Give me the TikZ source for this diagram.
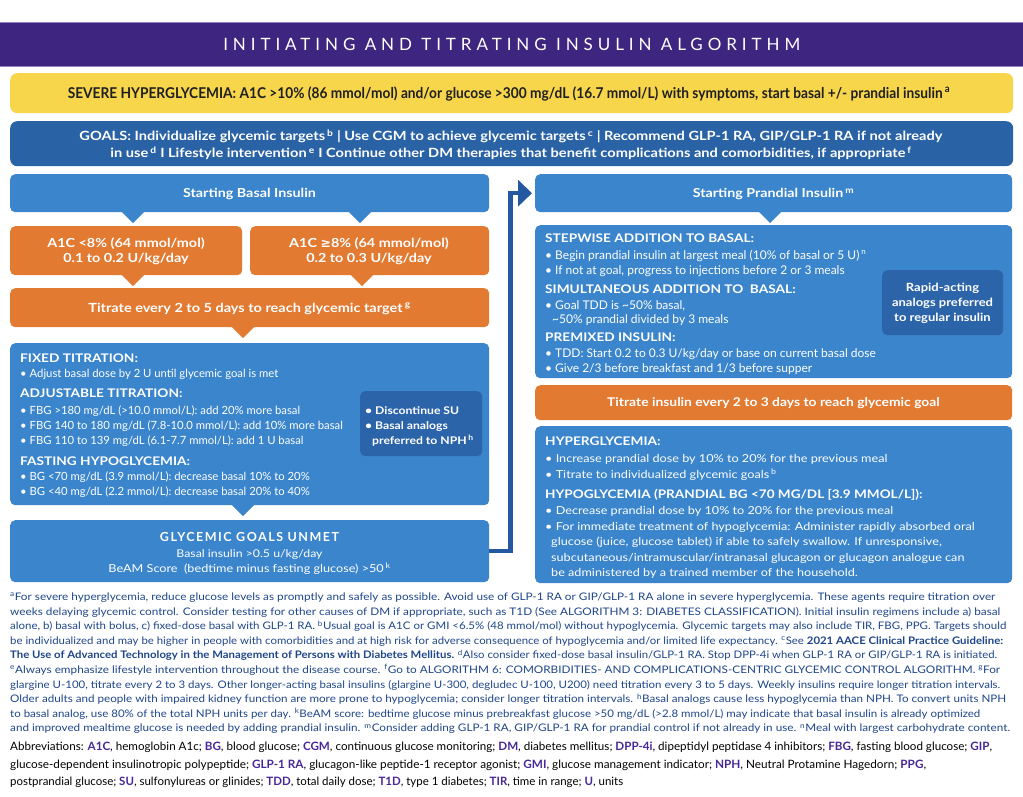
\documentclass[tikz,border=0pt]{standalone}
\usepackage{fontspec}
\usepackage{graphicx}
\setmainfont{Lato}
\newfontfamily\titlefont[LetterSpace=29]{Lato}
\newfontfamily\yelfont[FakeStretch=0.92]{Lato}
\newfontfamily\bx[FakeStretch=1.15]{Lato}
\newfontfamily\condfont[FakeStretch=0.86]{Lato}
\newfontfamily\symfont{DejaVu Sans}
\usetikzlibrary{arrows.meta}
\definecolor{purp}{RGB}{62,37,128}
\definecolor{lav}{RGB}{150,130,200}
\definecolor{yel}{RGB}{247,214,76}
\definecolor{dblue}{RGB}{42,98,166}
\definecolor{mblue}{RGB}{58,133,204}
\definecolor{iblue}{RGB}{44,100,170}
\definecolor{orng}{RGB}{226,122,50}
\definecolor{cblue}{RGB}{36,88,160}
\definecolor{fnblue}{RGB}{30,70,138}
\definecolor{abpurp}{RGB}{72,40,150}
\newcommand\fsz[1]{\fontsize{#1}{#1}\selectfont}
\newcommand\sps[1]{\textsuperscript{#1}}
\newcommand\ab[1]{\textbf{\color{abpurp}#1}}
\newcommand\gesym{{\symfont\bfseries ≥}}
\newcommand\fw[2]{\resizebox{#1pt}{\height}{#2}}
\tikzset{
  panel/.style={rounded corners=5pt, inner sep=0pt, anchor=north west},
  wl/.style={anchor=base west, inner sep=0pt, text=white, font=\fsz{11.3}},
  wr/.style={anchor=base west, inner sep=0pt, text=white, font=\fsz{12}},
  ws/.style={anchor=base west, inner sep=0pt, text=white, font=\bx\fsz{11}},
  wh/.style={anchor=base west, inner sep=0pt, text=white, font=\bx\bfseries\fsz{11.9}},
  wc/.style={anchor=base, inner sep=0pt, text=white},
  fn/.style={anchor=base west, inner sep=0pt, text=fnblue, font=\fsz{10.4}},
  abl/.style={anchor=base west, inner sep=0pt, text=black, font=\condfont\fsz{11.5}},
  conn/.style={draw=cblue, line width=4.5pt, line join=miter, -{Triangle[length=14pt,width=26pt]}, shorten >=3pt}
}
\begin{document}
\begin{tikzpicture}[x=1pt,y=-1pt]
\useasboundingbox (0,0) rectangle (1023,796);
\fill[white] (0,0) rectangle (1023,796);

% banner
\node[panel, rounded corners=0pt, fill=purp, minimum width=1023pt, minimum height=44pt] (banner) at (0,22) {};
\draw[lav, line width=1pt] (banner.north west) -- (banner.north east);
\draw[lav, line width=1pt] (banner.south west) -- (banner.south east);
\node[text=white, font=\titlefont\fsz{17}] (title) at (banner.center) {INITIATING AND TITRATING INSULIN ALGORITHM};

% yellow
\node[panel, rounded corners=7pt, fill=yel, minimum width=1003pt, minimum height=40pt] (sev) at (10,73) {};
\node[anchor=base, inner sep=0pt, text=black!88, font=\yelfont\bfseries\fsz{14.9}] (sevt) at (509,98) {SEVERE HYPERGLYCEMIA: A1C >10\% (86 mmol/mol) and/or glucose >300 mg/dL (16.7 mmol/L) with symptoms, start basal +/- prandial insulin\,\sps{a}};

% goals
\node[panel, rounded corners=7pt, fill=dblue, minimum width=1003pt, minimum height=45pt] (goals) at (10,121) {};
\node[wc, font=\bx\bfseries\fsz{12.7}] (g1) at (511,140.5) {GOALS: Individualize glycemic targets\,\sps{b} | Use CGM to achieve glycemic targets\,\sps{c} | Recommend GLP-1 RA, GIP/GLP-1 RA if not already};
\node[wc, font=\bx\bfseries\fsz{12.7}] (g2) at (511,157.5) {in use\,\sps{d} I Lifestyle intervention\,\sps{e} I Continue other DM therapies that benefit complications and comorbidities, if appropriate\,\sps{f}};

% ---------- left column
\node[panel, fill=mblue, minimum width=479pt, minimum height=38pt] (sb) at (10,174) {};
\node[wc, font=\bx\bfseries\fsz{12.45}] (sbt) at (249.5,197.5) {Starting Basal Insulin};
\fill[mblue] (121,211) -- (145,211) -- (133,223) -- cycle;
\fill[mblue] (348,211) -- (372,211) -- (360,223) -- cycle;

\node[panel, fill=orng, minimum width=232pt, minimum height=49pt] (o1) at (10,226) {};
\node[panel, fill=orng, minimum width=239pt, minimum height=49pt] (o2) at (250,226) {};
\node[wc, font=\bx\bfseries\fsz{12.5}] (o1a) at (126,247.5) {A1C <8\% (64 mmol/mol)};
\node[wc, font=\bx\bfseries\fsz{12.5}] (o1b) at (126,262.5) {0.1 to 0.2 U/kg/day};
\node[wc, font=\bx\bfseries\fsz{12.5}] (o2a) at (369,247.5) {A1C \gesym8\% (64 mmol/mol)};
\node[wc, font=\bx\bfseries\fsz{12.5}] (o2b) at (369,262.5) {0.2 to 0.3 U/kg/day};
\fill[orng] (121,274) -- (145,274) -- (133,286) -- cycle;
\fill[orng] (350,274) -- (374,274) -- (362,286) -- cycle;

\node[panel, fill=orng, minimum width=479pt, minimum height=39pt] (tb) at (10,288) {};
\node[wc, font=\bx\bfseries\fsz{12.6}] (tbt) at (249.5,312) {Titrate every 2 to 5 days to reach glycemic target\,\sps{g}};
\fill[orng] (231,326) -- (255,326) -- (243,338) -- cycle;

\node[panel, fill=mblue, minimum width=479pt, minimum height=162pt] (bb) at (10,343) {};
\node[wh] (h1) at (20,362) {FIXED TITRATION:};
\node[wl] (l1) at (20,377) {• Adjust basal dose by 2 U until glycemic goal is met};
\node[wh] (h2) at (20,397) {ADJUSTABLE TITRATION:};
\node[wl] (l2) at (20,414) {• FBG >180 mg/dL (>10.0 mmol/L): add 20\% more basal};
\node[wl] (l3) at (20,429) {• FBG 140 to 180 mg/dL (7.8-10.0 mmol/L): add 10\% more basal};
\node[wl] (l4) at (20,444) {• FBG 110 to 139 mg/dL (6.1-7.7 mmol/L): add 1 U basal};
\node[wh] (h3) at (20,465) {FASTING HYPOGLYCEMIA:};
\node[wl] (l5) at (20,480) {• BG <70 mg/dL (3.9 mmol/L): decrease basal 10\% to 20\%};
\node[wl] (l6) at (20,495) {• BG <40 mg/dL (2.2 mmol/L): decrease basal 20\% to 40\%};

\node[panel, fill=iblue, minimum width=122pt, minimum height=65pt] (ib1) at (360,391) {};
\node[wl, font=\bx\bfseries\fsz{10.6}] (i1) at (365,414) {• Discontinue SU};
\node[wl, font=\bx\bfseries\fsz{10.6}] (i2) at (365,429) {• Basal analogs};
\node[wl, font=\bx\bfseries\fsz{10.6}] (i3) at (372,444) {preferred to NPH\,\sps{h}};
\fill[mblue] (231,504) -- (255,504) -- (243,516) -- cycle;

\node[panel, fill=mblue, minimum width=479pt, minimum height=62pt] (gg) at (10,520) {};
\node[wc, font=\bfseries\fsz{12.5}\addfontfeature{LetterSpace=12}] (gg1) at (249.5,541.5) {GLYCEMIC GOALS UNMET};
\node[wc, font=\bx\fsz{10.7}] (gg2) at (249.5,557) {Basal insulin >0.5 u/kg/day};
\node[wc, font=\bx\fsz{11}] (gg3) at (249.5,572) {BeAM Score\ \ (bedtime minus fasting glucose) >50\,\sps{k}};

% ---------- right column
\node[panel, fill=mblue, minimum width=477pt, minimum height=38pt] (sp) at (535,174) {};
\node[wc, font=\bx\bfseries\fsz{12.4}] (spt) at (773.5,197.5) {Starting Prandial Insulin\,\sps{m}};
\fill[mblue] (758,211) -- (782,211) -- (770,223) -- cycle;

\node[panel, fill=mblue, minimum width=477pt, minimum height=153pt] (rb1) at (535,225) {};
\node[wh] (rh1) at (545,242) {STEPWISE ADDITION TO BASAL:};
\node[wr] (r1) at (545,259) {• Begin prandial insulin at largest meal (10\% of basal or 5 U)\,\sps{n}};
\node[wr] (r2) at (545,274) {• If not at goal, progress to injections before 2 or 3 meals};
\node[wh] (rh2) at (545,293) {SIMULTANEOUS ADDITION TO\ \ BASAL:};
\node[wr] (r3) at (545,309) {• Goal TDD is \textasciitilde50\% basal,};
\node[wr] (r4) at (552,323) {\textasciitilde50\% prandial divided by 3 meals};
\node[wh] (rh3) at (545,341) {PREMIXED INSULIN:};
\node[wr] (r5) at (545,357) {• TDD: Start 0.2 to 0.3 U/kg/day or base on current basal dose};
\node[wr] (r6) at (545,372) {• Give 2/3 before breakfast and 1/3 before supper};

\node[panel, fill=iblue, minimum width=121pt, minimum height=65pt] (ib2) at (882,270) {};
\node[wc, font=\bx\bfseries\fsz{11.3}] (j1) at (942.5,291) {Rapid-acting};
\node[wc, font=\bx\bfseries\fsz{11.3}] (j2) at (942.5,306) {analogs preferred};
\node[wc, font=\bx\bfseries\fsz{11.3}] (j3) at (942.5,321) {to regular insulin};

\node[panel, fill=orng, minimum width=477pt, minimum height=35pt] (to) at (535,385) {};
\node[wc, font=\bx\bfseries\fsz{12.05}] (tot) at (773.5,406.5) {Titrate insulin every 2 to 3 days to reach glycemic goal};

\node[panel, fill=mblue, minimum width=477pt, minimum height=157pt] (rb2) at (535,426) {};
\node[wh] (rh4) at (545,445) {HYPERGLYCEMIA:};
\node[ws] (r7) at (545,462) {• Increase prandial dose by 10\% to 20\% for the previous meal};
\node[ws] (r8) at (545,478) {• Titrate to individualized glycemic goals\,\sps{b}};
\node[wh, font=\bx\bfseries\fsz{11.8}] (rh5) at (545,498) {HYPOGLYCEMIA (PRANDIAL BG <70 MG/DL [3.9 MMOL/L]):};
\node[ws] (r9) at (545,514) {• Decrease prandial dose by 10\% to 20\% for the previous meal};
\node[ws] (r10) at (545,530) {• For immediate treatment of hypoglycemia: Administer rapidly absorbed oral};
\node[ws] (r11) at (551,545) {glucose (juice, glucose tablet) if able to safely swallow. If unresponsive,};
\node[ws] (r12) at (551,561) {subcutaneous/intramuscular/intranasal glucagon or glucagon analogue can};
\node[ws] (r13) at (551,576) {be administered by a trained member of the household.};

% connector
\draw[conn] (gg.east) -- ++(21,0) |- (sp.west);

% footnotes
\node[fn] (f1) at (10,600.5) {\fw{985}{\sps{a}For severe hyperglycemia, reduce glucose levels as promptly and safely as possible. Avoid use of GLP-1 RA or GIP/GLP-1 RA alone in severe hyperglycemia. These agents require titration over}};
\node[fn] (f2) at (10,615.1) {\fw{990}{weeks delaying glycemic control. Consider testing for other causes of DM if appropriate, such as T1D (See ALGORITHM 3: DIABETES CLASSIFICATION). Initial insulin regimens include a) basal}};
\node[fn] (f3) at (10,629.7) {\fw{996}{alone, b) basal with bolus, c) fixed-dose basal with GLP-1 RA. \sps{b}Usual goal is A1C or GMI <6.5\% (48 mmol/mol) without hypoglycemia. Glycemic targets may also include TIR, FBG, PPG. Targets should}};
\node[fn] (f4) at (10,644.3) {\fw{993}{be individualized and may be higher in people with comorbidities and at high risk for adverse consequence of hypoglycemia and/or limited life expectancy. \sps{c}See \textbf{2021 AACE Clinical Practice Guideline:}}};
\node[fn] (f5) at (10,658.9) {\fw{987}{\textbf{The Use of Advanced Technology in the Management of Persons with Diabetes Mellitus.} \sps{d}Also consider fixed-dose basal insulin/GLP-1 RA. Stop DPP-4i when GLP-1 RA or GIP/GLP-1 RA is initiated.}};
\node[fn] (f6) at (10,673.5) {\fw{990}{\sps{e}Always emphasize lifestyle intervention throughout the disease course. \sps{f}Go to ALGORITHM 6: COMORBIDITIES- AND COMPLICATIONS-CENTRIC GLYCEMIC CONTROL ALGORITHM. \sps{g}For}};
\node[fn] (f7) at (10,688.1) {\fw{990}{glargine U-100, titrate every 2 to 3 days. Other longer-acting basal insulins (glargine U-300, degludec U-100, U200) need titration every 3 to 5 days. Weekly insulins require longer titration intervals.}};
\node[fn] (f8) at (10,702.7) {\fw{996}{Older adults and people with impaired kidney function are more prone to hypoglycemia; consider longer titration intervals. \sps{h}Basal analogs cause less hypoglycemia than NPH. To convert units NPH}};
\node[fn] (f9) at (10,717.3) {\fw{970}{to basal analog, use 80\% of the total NPH units per day. \sps{k}BeAM score: bedtime glucose minus prebreakfast glucose >50 mg/dL (>2.8 mmol/L) may indicate that basal insulin is already optimized}};
\node[fn] (f10) at (10,731.9) {\fw{1000}{and improved mealtime glucose is needed by adding prandial insulin. \sps{m}Consider adding GLP-1 RA, GIP/GLP-1 RA for prandial control if not already in use. \sps{n}Meal with largest carbohydrate content.}};

% abbreviations
\node[abl] (a1) at (10,750) {\fw{982}{Abbreviations: \ab{A1C}, hemoglobin A1c; \ab{BG}, blood glucose; \ab{CGM}, continuous glucose monitoring; \ab{DM}, diabetes mellitus; \ab{DPP-4i}, dipeptidyl peptidase 4 inhibitors; \ab{FBG}, fasting blood glucose; \ab{GIP},}};
\node[abl] (a2) at (10,768) {\fw{916}{glucose-dependent insulinotropic polypeptide; \ab{GLP-1 RA}, glucagon-like peptide-1 receptor agonist; \ab{GMI}, glucose management indicator; \ab{NPH}, Neutral Protamine Hagedorn; \ab{PPG},}};
\node[abl] (a3) at (10,785) {\fw{613}{postprandial glucose; \ab{SU}, sulfonylureas or glinides; \ab{TDD}, total daily dose; \ab{T1D}, type 1 diabetes; \ab{TIR}, time in range; \ab{U}, units}};
\end{tikzpicture}
\end{document}
